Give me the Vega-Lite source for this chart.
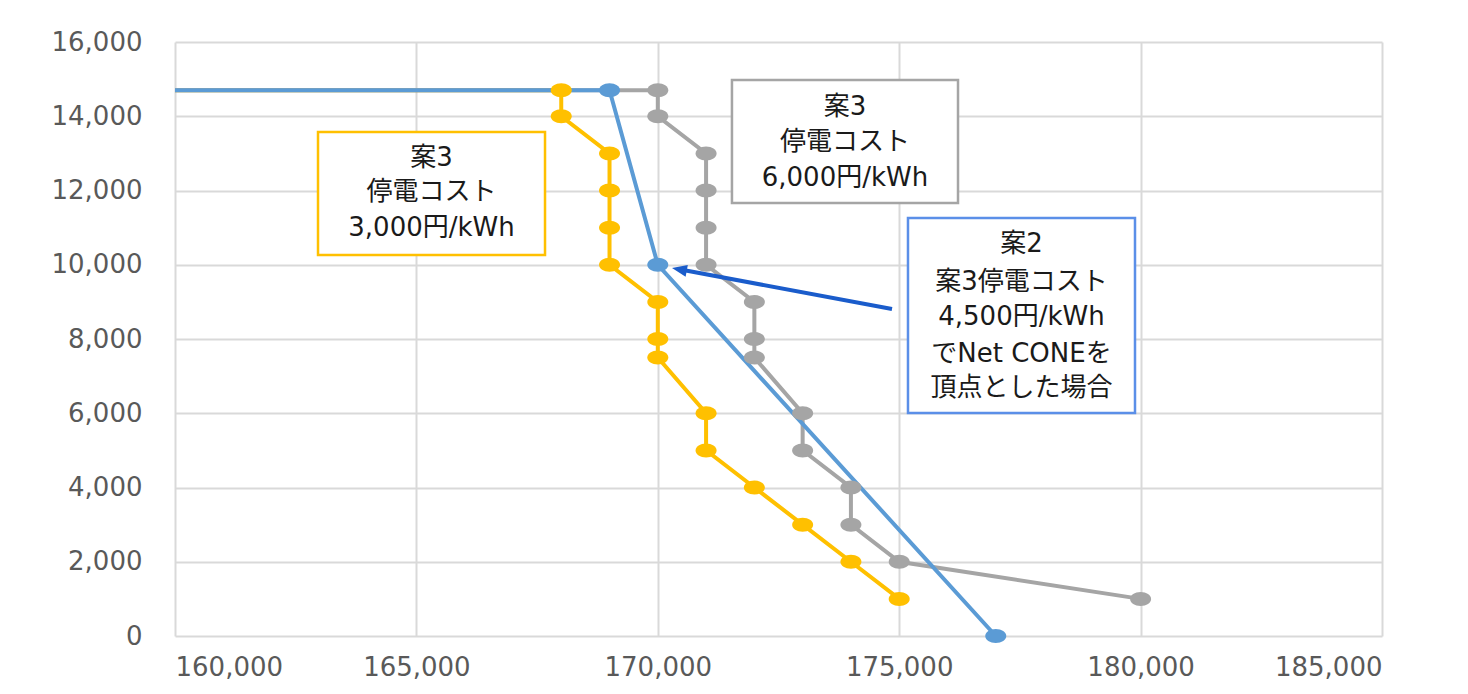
{
  "$schema": "https://vega.github.io/schema/vega-lite/v6.json",
  "width": 1207,
  "height": 594,
  "autosize": {"type": "none"},
  "padding": {"left": 175, "top": 42, "right": 86, "bottom": 58},
  "background": "white",
  "config": {
    "view": {"stroke": null},
    "axis": {
      "labelFont": "DejaVu Sans",
      "labelFontSize": 26,
      "labelColor": "#595959",
      "gridColor": "#d9d9d9",
      "gridWidth": 2,
      "domain": false,
      "ticks": false,
      "title": null
    }
  },
  "datasets": {
    "series": [
      {"s": "y3000", "x": 160000, "y": 14700},
      {"s": "y3000", "x": 168000, "y": 14700},
      {"s": "y3000", "x": 168000, "y": 14000},
      {"s": "y3000", "x": 169000, "y": 13000},
      {"s": "y3000", "x": 169000, "y": 12000},
      {"s": "y3000", "x": 169000, "y": 11000},
      {"s": "y3000", "x": 169000, "y": 10000},
      {"s": "y3000", "x": 170000, "y": 9000},
      {"s": "y3000", "x": 170000, "y": 8000},
      {"s": "y3000", "x": 170000, "y": 7500},
      {"s": "y3000", "x": 171000, "y": 6000},
      {"s": "y3000", "x": 171000, "y": 5000},
      {"s": "y3000", "x": 172000, "y": 4000},
      {"s": "y3000", "x": 173000, "y": 3000},
      {"s": "y3000", "x": 174000, "y": 2000},
      {"s": "y3000", "x": 175000, "y": 1000},
      {"s": "g6000", "x": 160000, "y": 14700},
      {"s": "g6000", "x": 170000, "y": 14700},
      {"s": "g6000", "x": 170000, "y": 14000},
      {"s": "g6000", "x": 171000, "y": 13000},
      {"s": "g6000", "x": 171000, "y": 12000},
      {"s": "g6000", "x": 171000, "y": 11000},
      {"s": "g6000", "x": 171000, "y": 10000},
      {"s": "g6000", "x": 172000, "y": 9000},
      {"s": "g6000", "x": 172000, "y": 8000},
      {"s": "g6000", "x": 172000, "y": 7500},
      {"s": "g6000", "x": 173000, "y": 6000},
      {"s": "g6000", "x": 173000, "y": 5000},
      {"s": "g6000", "x": 174000, "y": 4000},
      {"s": "g6000", "x": 174000, "y": 3000},
      {"s": "g6000", "x": 175000, "y": 2000},
      {"s": "g6000", "x": 180000, "y": 1000},
      {"s": "b4500", "x": 160000, "y": 14700},
      {"s": "b4500", "x": 169000, "y": 14700},
      {"s": "b4500", "x": 170000, "y": 10000},
      {"s": "b4500", "x": 177000, "y": 0}
    ],
    "boxes": [
      {"box": "y3000", "x1": 162962, "x2": 167664, "y1": 13576, "y2": 10263},
      {"box": "g6000", "x1": 171536, "x2": 176218, "y1": 14976, "y2": 11663},
      {"box": "b4500", "x1": 175182, "x2": 179884, "y1": 11259, "y2": 6007}
    ],
    "notes": [
      {"x": 165313, "y": 12875, "text": "案3"},
      {"x": 165313, "y": 11960, "text": "停電コスト"},
      {"x": 165313, "y": 10990, "text": "3,000円/kWh"},
      {"x": 173877, "y": 14249, "text": "案3"},
      {"x": 173877, "y": 13306, "text": "停電コスト"},
      {"x": 173877, "y": 12337, "text": "6,000円/kWh"},
      {"x": 177533, "y": 10559, "text": "案2"},
      {"x": 177533, "y": 9535, "text": "案3停電コスト"},
      {"x": 177533, "y": 8593, "text": "4,500円/kWh"},
      {"x": 177533, "y": 7596, "text": "でNet CONEを"},
      {"x": 177533, "y": 6680, "text": "頂点とした場合"}
    ],
    "arrow": [
      {"x1": 174851, "y1": 8808, "x2": 170497, "y2": 9864, "tx": 170294, "ty": 9912}
    ]
  },
  "layer": [
    {
      "data": {"name": "series"},
      "transform": [{"filter": "datum.s === 'y3000'"}],
      "mark": {"type": "line", "color": "#FFC000", "strokeWidth": 4},
      "encoding": {
        "x": {"field": "x", "type": "quantitative", "scale": {"domain": [160000, 185000], "nice": false, "zero": false},
              "axis": {"values": [160000, 165000, 170000, 175000, 180000, 185000], "format": ",d", "labelPadding": 18, "labelFont": "DejaVu Sans"}},
        "y": {"field": "y", "type": "quantitative", "scale": {"domain": [0, 16000], "nice": false},
              "axis": {"values": [0, 2000, 4000, 6000, 8000, 10000, 12000, 14000, 16000], "format": ",d", "labelPadding": 33, "labelFont": "DejaVu Sans"}},
        "order": {"value": 0}
      }
    },
    {
      "data": {"name": "series"},
      "transform": [{"filter": "datum.s === 'g6000'"}],
      "mark": {"type": "line", "color": "#A5A5A5", "strokeWidth": 4},
      "encoding": {
        "x": {"field": "x", "type": "quantitative"},
        "y": {"field": "y", "type": "quantitative"},
        "order": {"value": 0}
      }
    },
    {
      "data": {"name": "series"},
      "transform": [{"filter": "datum.s === 'b4500'"}],
      "mark": {"type": "line", "color": "#5B9BD5", "strokeWidth": 4},
      "encoding": {
        "x": {"field": "x", "type": "quantitative"},
        "y": {"field": "y", "type": "quantitative"},
        "order": {"value": 0}
      }
    },
    {
      "data": {"name": "series"},
      "transform": [{"filter": "datum.x > 160000"}],
      "mark": {"type": "point", "filled": true, "opacity": 1, "size": 196,
               "shape": "M-1.5,0A1.5,1,0,1,0,1.5,0A1.5,1,0,1,0,-1.5,0Z"},
      "encoding": {
        "x": {"field": "x", "type": "quantitative"},
        "y": {"field": "y", "type": "quantitative"},
        "color": {"field": "s", "type": "nominal", "legend": null,
                  "scale": {"domain": ["y3000", "g6000", "b4500"], "range": ["#FFC000", "#A5A5A5", "#5B9BD5"]}}
      }
    },
    {
      "data": {"name": "boxes"},
      "mark": {"type": "rect", "fill": "white", "strokeWidth": 2.5},
      "encoding": {
        "x": {"field": "x1", "type": "quantitative"},
        "x2": {"field": "x2"},
        "y": {"field": "y1", "type": "quantitative"},
        "y2": {"field": "y2"},
        "stroke": {"field": "box", "type": "nominal", "legend": null,
                   "scale": {"domain": ["y3000", "g6000", "b4500"], "range": ["#FFC000", "#A5A5A5", "#5B8FE8"]}}
      }
    },
    {
      "data": {"name": "notes"},
      "mark": {"type": "text", "font": "DejaVu Sans, Noto Sans CJK JP", "fontSize": 26, "color": "#1a1a1a", "align": "center", "baseline": "middle"},
      "encoding": {
        "x": {"field": "x", "type": "quantitative"},
        "y": {"field": "y", "type": "quantitative"},
        "text": {"field": "text"}
      }
    },
    {
      "data": {"name": "arrow"},
      "mark": {"type": "rule", "color": "#1A5CCB", "strokeWidth": 4},
      "encoding": {
        "x": {"field": "x1", "type": "quantitative"},
        "y": {"field": "y1", "type": "quantitative"},
        "x2": {"field": "x2"},
        "y2": {"field": "y2"}
      }
    },
    {
      "data": {"name": "arrow"},
      "mark": {"type": "point", "filled": true, "opacity": 1, "color": "#1A5CCB", "size": 64,
               "shape": "M0,0L-3.75,-1.5L-3.75,1.5Z", "angle": 190.6},
      "encoding": {
        "x": {"field": "tx", "type": "quantitative"},
        "y": {"field": "ty", "type": "quantitative"}
      }
    }
  ]
}
